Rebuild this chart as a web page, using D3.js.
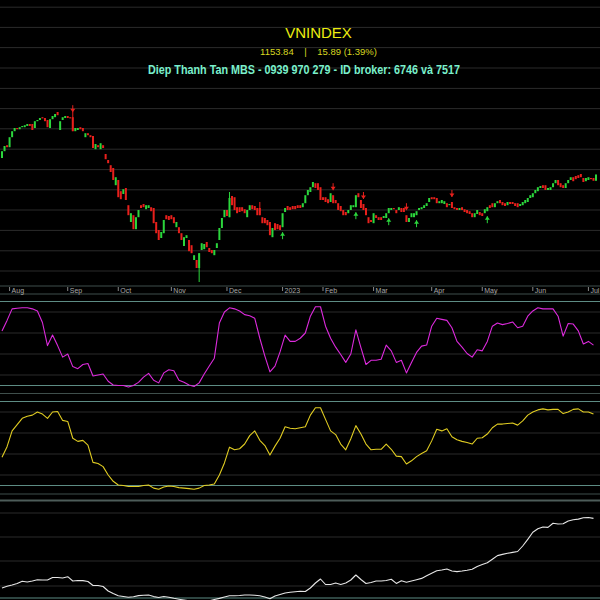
<!DOCTYPE html>
<html><head><meta charset="utf-8">
<script src="https://cdn.jsdelivr.net/npm/d3@7"></script>
<style>html,body{margin:0;padding:0;background:#000;}svg{display:block}</style>
</head><body><svg id="c" width="600" height="600"></svg>
<script>
// ---- data ----
const opens=[1195,1212,1227,1222,1247,1262,1270,1267,1272,1272,1275,1280,1280,1270,1287,1290,1297,1295,1290,1270,
1292,1297,1310,1265,1290,1295,1300,1297,1297,1262,1265,1272,1270,1247,1257,1252,1250,1217,1227,1217,
1227,1205,1190,1177,1170,1127,1140,1112,1105,1120,1077,1035,1052,1017,1047,1077,1080,1067,1070,1072,
1070,1035,1015,995,1007,1052,1050,1052,1047,1022,1022,1007,975,995,990,977,940,940,920,965,
967,985,970,965,952,970,990,1020,1047,1065,1047,1100,1097,1072,1072,1072,1067,1047,1065,1077,
1075,1070,1070,1047,1045,1040,1035,997,1032,1030,1027,1022,1060,1075,1072,1075,1075,1077,1077,1072,
1082,1102,1110,1122,1132,1132,1122,1097,1097,1092,1085,1102,1090,1082,1075,1065,1060,1057,1065,1072,
1072,1107,1090,1080,1070,1047,1040,1032,1052,1047,1047,1045,1045,1057,1065,1070,1065,1065,1070,1070,
1052,1035,1047,1047,1052,1065,1067,1070,1075,1085,1097,1097,1095,1082,1082,1080,1082,1077,1085,1072,
1070,1065,1072,1067,1065,1062,1057,1047,1055,1060,1057,1057,1062,1077,1082,1072,1082,1090,1085,1082,
1077,1085,1085,1082,1082,1075,1077,1082,1085,1095,1097,1107,1112,1120,1127,1127,1115,1115,1122,1132,
1140,1132,1127,1120,1132,1140,1147,1150,1152,1155,1145,1137,1140,1145,1145,1138];
const closes=[1212,1225,1222,1247,1262,1270,1267,1272,1275,1277,1280,1275,1265,1287,1290,1295,1295,1287,1272,1292,
1300,1305,1302,1287,1297,1300,1295,1295,1262,1270,1270,1267,1262,1257,1252,1247,1220,1230,1222,1232,
1220,1192,1182,1160,1140,1147,1097,1092,1117,1090,1052,1057,1017,1047,1065,1070,1072,1077,1077,1062,
1032,1007,990,1010,1040,1042,1040,1042,1032,1035,1007,990,997,1002,962,957,952,920,957,982,
980,972,960,957,965,982,1020,1045,1065,1050,1095,1077,1065,1057,1060,1062,1057,1065,1077,1067,
1065,1052,1052,1032,1032,1027,1002,1020,1015,1017,1015,1057,1070,1065,1065,1067,1067,1070,1070,1082,
1102,1115,1122,1135,1120,1115,1090,1090,1085,1082,1107,1082,1082,1065,1062,1052,1052,1065,1077,1077,
1102,1097,1070,1065,1052,1032,1035,1057,1045,1040,1040,1050,1057,1070,1070,1067,1057,1072,1060,1060,
1035,1045,1057,1057,1062,1070,1072,1077,1082,1095,1092,1092,1082,1087,1090,1087,1072,1080,1070,1067,
1065,1070,1065,1060,1057,1055,1047,1057,1065,1052,1050,1067,1072,1070,1072,1082,1087,1082,1077,1075,
1085,1080,1080,1075,1072,1080,1085,1090,1095,1102,1107,1115,1122,1125,1120,1115,1120,1122,1132,1140,
1127,1122,1120,1132,1140,1147,1137,1142,1145,1147,1135,1145,1147,1142,1138,1153.84];
const wicks=[[28,1310,1262],[78,957,885],[90,1110,1047],[102,1085,1052]]; // [bar, high, low]
const sellSignals=[28,131,143,160,178];
const buySignals=[111,140,153,164,192];
const monthTicks=[3,26,46,67,89,111,127,147,170,190,210,232];
const monthLabels=["Aug","Sep","Oct","Nov","Dec","2023","Feb","Mar","Apr","May","Jun","Jul"];
const priceGrid=[912.5,963,1014,1065,1115.5,1166,1217,1268,1318.5,1369,1420,1471,1521.5,1572];
const oscStep=2; // one oscillator value every 2 bars
const osc1=[62,72,83,83.5,84,84,83,81,70,48,58,48,37,40,28,26,30,31,19,20,21,14,10.5,10,10,8.5,10,13,18,21.5,15,12.5,22,25,24,15,13,10.5,9,12.5,21,28.5,36,69.5,80,84,83,81,77.5,76.5,74,55,38,23,28.5,42,58,52,52,55,60,76,85,85,66.5,55,46.5,39.5,32,40,63,46,30,34,34,35,48.5,43,32,34,22,32,41.5,47.5,48.5,66.5,74,73,72,65,52,46.5,40.5,37,44,43,52,66.5,69.5,68,69,70.5,65,66.5,76,81,84,83,83,83,76,57,69,68.5,62,49.5,52,48.5];
const osc2=[37,47,62,68,74,76,77,80,78,74,80,80.5,72,71,55,52,53,48.5,32,31,28,20,14,10.5,10,9,9,9,10,10.5,7.5,6.5,8.5,9.5,9,8,7.5,7,6.5,7.5,10,10.5,11.5,20,31.5,46.5,44,45,49.5,57.5,62,53,48,39,47.5,55,66,64.5,64,65,66,77,84,84,73,62,58.5,49.5,44,54.5,67,59,49.5,44,44.5,44.5,49.5,44.5,38,37.5,30.5,33.5,37.5,40.5,43,52.5,63.5,62,64,56.5,53.5,52,51,49.5,55,55.5,59,65,68.5,68.5,69,69.5,67.5,71.5,77,80,82,83,82,82.5,82.5,78.5,80,82.5,83,80,80,78];
const flow=[12,13.7,15,16.5,18.7,18,19,20.3,20,20,22.5,22.5,22,23.3,19,19.5,19.4,18.5,14.5,14.5,13.5,9,6.5,4.3,3.5,2.7,3.3,4.4,4.7,5,3.4,2.5,3.5,2.8,1.7,0.8,0,-0.8,-1.5,-1.8,-1.5,-0.8,0.5,1.6,3,4.3,4.3,4.5,5,5,4.7,4.3,3,1.3,4,5.5,7,7.7,8.3,8.8,8.5,12,17,21,15.5,15.5,17,15.5,17,20,25,20.5,16.5,17.5,19,19,19.5,20.7,16.6,19.2,17.8,19,20.3,21.6,24.3,26.8,29.3,30,31,29,28.4,29,29.8,30.8,33.5,35.4,37.3,40.8,44.4,45.6,46.7,47.6,48.5,54,60.7,67.7,71.2,73,72.6,76.7,76,76.2,79,80.3,80.9,82.2,82.5,81.6];
const oscLevels=[10,90], oscGrid=[20,40,60,80];
const flowLevels=[2], flowGrid=[14,39,63,87];

// ---- scales ----
const svg=d3.select("#c");
const x=d3.scaleLinear().domain([0,235]).range([2,596]);
const yP=d3.scaleLinear().domain([877.5,1590]).range([285,0]);
const y2=d3.scaleLinear().domain([0,100]).range([396,291]);
const y3=d3.scaleLinear().domain([0,100]).range([496,391]);
const y4=d3.scaleLinear().domain([0,100]).range([600,500]);

svg.append("rect").attr("width",600).attr("height",600).attr("fill","#000");

const GRID="#2b2b2b", LEVEL="#5d8c84", SEP="#3f4f4c";
svg.append("g").selectAll("line").data(priceGrid).join("line")
  .attr("x1",0).attr("x2",600).attr("y1",d=>yP(d)).attr("y2",d=>yP(d))
  .attr("stroke",GRID).attr("stroke-width",1);
[y2,y3].forEach(ys=>{
  svg.append("g").selectAll("line").data(oscGrid).join("line")
    .attr("x1",0).attr("x2",600).attr("y1",d=>ys(d)).attr("y2",d=>ys(d))
    .attr("stroke",GRID);
  svg.append("g").selectAll("line").data(oscLevels).join("line")
    .attr("x1",0).attr("x2",600).attr("y1",d=>ys(d)).attr("y2",d=>ys(d))
    .attr("stroke",LEVEL).attr("stroke-width",1.2);
});
svg.append("g").selectAll("line").data(flowGrid).join("line")
  .attr("x1",0).attr("x2",600).attr("y1",d=>y4(d)).attr("y2",d=>y4(d)).attr("stroke",GRID);
svg.append("g").selectAll("line").data(flowLevels).join("line")
  .attr("x1",0).attr("x2",600).attr("y1",d=>y4(d)).attr("y2",d=>y4(d)).attr("stroke",LEVEL).attr("stroke-width",1.2);

[286,294,393.5,494,500.5].forEach(v=>svg.append("line").attr("x1",0).attr("x2",600).attr("y1",v).attr("y2",v)
  .attr("stroke",v===500.5?"#4d5c59":SEP).attr("stroke-width",v===500.5?2:1));

const ax=svg.append("g");
ax.selectAll("line").data(monthTicks).join("line")
  .attr("x1",d=>x(d)).attr("x2",d=>x(d)).attr("y1",287).attr("y2",291).attr("stroke","#888");
ax.selectAll("text").data(monthTicks).join("text")
  .attr("x",d=>x(d)+2).attr("y",293).text((d,i)=>monthLabels[i])
  .attr("fill","#a8a8a8").attr("font-family","Liberation Sans, Arial, sans-serif").attr("font-size",7);

const GREEN="#2bd63c", RED="#e8201c";
const idx=d3.range(closes.length);
const cg=svg.append("g");
cg.selectAll("line").data(wicks).join("line")
  .attr("x1",d=>x(d[0])).attr("x2",d=>x(d[0])).attr("y1",d=>yP(d[1])).attr("y2",d=>yP(d[2]))
  .attr("stroke",d=>closes[d[0]]>=opens[d[0]]?GREEN:RED).attr("stroke-width",1);
cg.selectAll("rect").data(idx).join("rect")
  .attr("x",i=>x(i)-1).attr("width",2)
  .attr("y",i=>yP(Math.max(opens[i],closes[i])))
  .attr("height",i=>Math.max(1.2,Math.abs(yP(opens[i])-yP(closes[i]))))
  .attr("fill",i=>closes[i]>=opens[i]?GREEN:RED);

const sg=svg.append("g");
sellSignals.forEach(i=>{
  const cx=x(i), yb=yP(Math.max(opens[i],closes[i]))-5;
  sg.append("line").attr("x1",cx).attr("x2",cx).attr("y1",yb-7).attr("y2",yb).attr("stroke",RED).attr("stroke-width",1);
  sg.append("path").attr("d",`M${cx-2.5},${yb-3.5}L${cx+2.5},${yb-3.5}L${cx},${yb}Z`).attr("fill",RED);
});
buySignals.forEach(i=>{
  const cx=x(i), yt=yP(Math.min(opens[i],closes[i]))+5;
  sg.append("line").attr("x1",cx).attr("x2",cx).attr("y1",yt).attr("y2",yt+7).attr("stroke",GREEN).attr("stroke-width",1);
  sg.append("path").attr("d",`M${cx-2.5},${yt+3.5}L${cx+2.5},${yt+3.5}L${cx},${yt}Z`).attr("fill",GREEN);
});

function drawLine(vals,ys,color){
  svg.append("path").datum(vals)
    .attr("d",d3.line().x((d,k)=>x(k*oscStep)).y(d=>ys(d)))
    .attr("fill","none").attr("stroke",color).attr("stroke-width",1.1).attr("stroke-linejoin","round");
}
drawLine(osc1,y2,"#dc2adc");
drawLine(osc2,y3,"#e0cc22");
drawLine(flow,y4,"#e6e6e6");

svg.append("text").attr("x",318.5).attr("y",38).attr("text-anchor","middle")
  .attr("font-family","Liberation Sans, Arial, sans-serif").attr("font-size",15)
  .attr("fill","#ecec10").text("VNINDEX");
svg.append("text").attr("x",318.5).attr("y",55).attr("text-anchor","middle")
  .attr("font-family","Liberation Sans, Arial, sans-serif").attr("font-size",9.5)
  .attr("fill","#d8d820").style("white-space","pre").text("1153.84    |    15.89 (1.39%)");
svg.append("text").attr("x",148).attr("y",74)
  .attr("font-family","Liberation Sans Narrow, Arial Narrow, sans-serif").attr("font-weight","bold").attr("font-size",13)
  .attr("textLength",312).attr("lengthAdjust","spacingAndGlyphs")
  .attr("fill","#7af0cc").text("Diep Thanh Tan MBS - 0939 970 279 - ID broker: 6746 và 7517");
</script></body></html>
